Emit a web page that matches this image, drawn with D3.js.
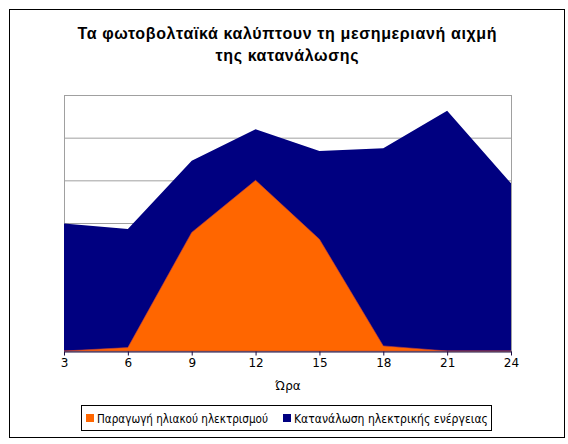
<!DOCTYPE html>
<html>
<head>
<meta charset="utf-8">
<script src="https://cdn.jsdelivr.net/npm/d3@7"></script>
<style>
  body { margin: 0; background: #fff; }
  svg { display: block; }
</style>
</head>
<body>
<svg width="568" height="444"></svg>
<script>
// data (y units: one gridline step = 1)
const hours = [3, 6, 9, 12, 15, 18, 21, 24];
const solar = [0.0, 0.08, 2.78, 4.0, 2.62, 0.12, 0.0, 0.0];
const consumption = [2.99, 2.86, 4.46, 5.2, 4.69, 4.75, 5.63, 3.93];
const seriesNames = ["Παραγωγή ηλιακού ηλεκτρισμού", "Κατανάλωση ηλεκτρικής ενέργειας"];
const seriesColors = ["#ff6600", "#000080"];
const titleLines = ["Τα φωτοβολταϊκά καλύπτουν τη μεσημεριανή αιχμή", "της κατανάλωσης"];
const xTitle = "Ώρα";

const svg = d3.select("svg");

// outer chart border
svg.append("rect")
  .attr("x", 9.5).attr("y", 9.5)
  .attr("width", 555).attr("height", 428)
  .attr("fill", "#fff").attr("stroke", "#000");

// title (widths matched to the original rendering)
svg.append("g").selectAll("text")
  .data(titleLines)
  .enter().append("text")
    .attr("x", 287)
    .attr("y", (d, i) => 39 + i * 22)
    .attr("text-anchor", "middle")
    .attr("textLength", (d, i) => [419, 143][i])
    .attr("lengthAdjust", "spacing")
    .style("font-family", "'Liberation Sans', Arial, sans-serif")
    .style("font-weight", "bold")
    .style("font-size", "16px")
    .text(d => d);

const plot = { left: 64, right: 511, top: 95, bottom: 351 };

const x = d3.scalePoint()
  .domain(hours)
  .range([plot.left, plot.right]);

const y = d3.scaleLinear()
  .domain([0, 6])
  .range([plot.bottom, plot.top]);

// gridlines
svg.append("g").selectAll("line")
  .data(y.ticks(6).filter(d => d > 0))
  .enter().append("line")
    .attr("x1", plot.left).attr("x2", plot.right)
    .attr("y1", d => y(d) + 0.5).attr("y2", d => y(d) + 0.5)
    .attr("stroke", "#a0a0a0");

// plot area border
svg.append("rect")
  .attr("x", plot.left + 0.5).attr("y", plot.top + 0.5)
  .attr("width", plot.right - plot.left).attr("height", plot.bottom - plot.top)
  .attr("fill", "none").attr("stroke", "#a0a0a0");

const area = vals => d3.area()
  .x((d, i) => x(hours[i]))
  .y0(y(0))
  .y1(d => y(d))(vals);

// consumption behind, solar in front (not stacked)
svg.append("path")
  .attr("d", area(consumption))
  .attr("fill", seriesColors[1]);

svg.append("path")
  .attr("d", area(solar))
  .attr("fill", seriesColors[0])
  .attr("stroke", "#c04040")
  .attr("stroke-width", 0.6);

// x axis
const xAxis = svg.append("g")
  .attr("transform", `translate(0,${plot.bottom + 0.5})`)
  .call(d3.axisBottom(x).tickSize(4).tickSizeOuter(0).tickPadding(3));
xAxis.select(".domain").attr("stroke", "#1a0a40");
xAxis.selectAll(".tick line").attr("stroke", "#1a0a40");
xAxis.selectAll("text")
  .style("font-family", "'DejaVu Sans', Verdana, sans-serif")
  .style("font-size", "12px")
  .attr("fill", "#000");

svg.append("text")
  .attr("x", 288).attr("y", 390)
  .attr("text-anchor", "middle")
  .style("font-family", "'DejaVu Sans', Verdana, sans-serif")
  .style("font-size", "12px")
  .text(xTitle);

// legend
const legend = svg.append("g");
legend.append("rect")
  .attr("x", 81.5).attr("y", 405.5)
  .attr("width", 410).attr("height", 25)
  .attr("fill", "#fff").attr("stroke", "#000");

const itemX = [86, 283];
const items = legend.selectAll(".item")
  .data(seriesNames)
  .enter().append("g")
    .attr("class", "item")
    .attr("transform", (d, i) => `translate(${itemX[i]},418)`);

items.append("rect")
  .attr("x", 0).attr("y", -4)
  .attr("width", 8).attr("height", 8)
  .attr("fill", (d, i) => seriesColors[i]);

items.append("text")
  .attr("x", 11).attr("y", 4.5)
  .style("font-family", "'DejaVu Sans', Tahoma, sans-serif")
  .style("font-size", "11.5px")
  .attr("textLength", (d, i) => [171, 194][i])
  .attr("lengthAdjust", "spacingAndGlyphs")
  .text(d => d);
</script>
</body>
</html>
